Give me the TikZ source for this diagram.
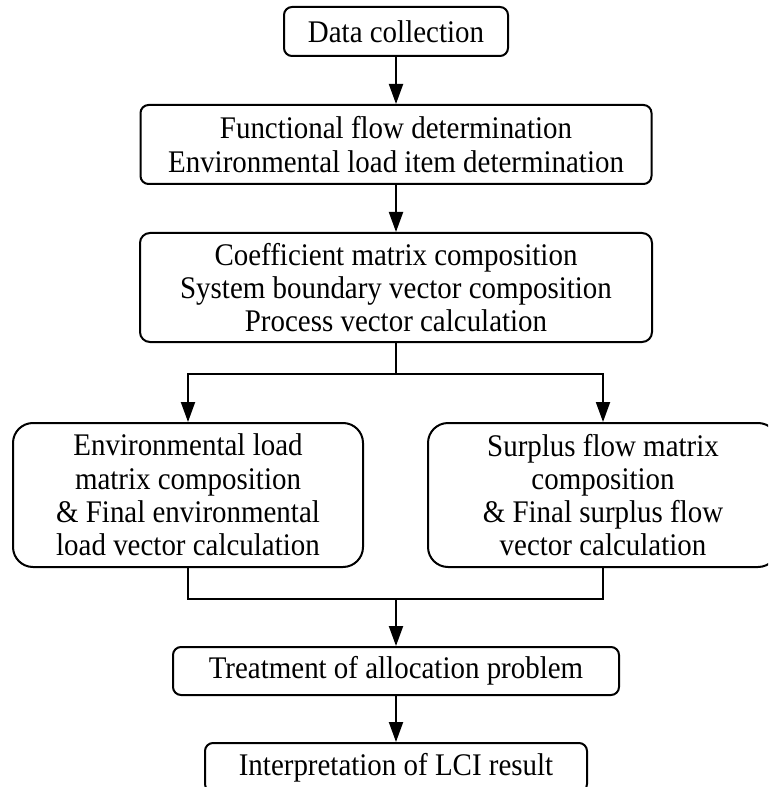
\documentclass[tikz,border=0pt]{standalone}
\usepackage{fontspec}
\setmainfont{Liberation Serif}[FakeStretch=0.92]
\usetikzlibrary{arrows.meta}

\tikzset{
  flowbox/.style={draw, line width=1.5pt, align=center, inner sep=0pt,
    font=\fontsize{23.6}{24.9}\selectfont},
  smallround/.style={flowbox, rounded corners=6pt},
  biground/.style={flowbox, rounded corners=15pt},
  link/.style={line width=1.5pt},
  flowarrow/.style={link, -{Triangle[length=15pt, width=10.5pt]}}
}

\begin{document}
\begin{tikzpicture}[x=0.75pt, y=-0.75pt]
  \useasboundingbox (0,0) rectangle (768,787);
  \clip (0,0) rectangle (768,787);

  % main chain of steps
  \node[smallround, minimum width=168pt, minimum height=36.75pt] (dc) at (396,31.5) {Data collection};
  \node[smallround, minimum width=383.25pt, minimum height=59.25pt] (func) at (396,144.5)
    {Functional flow determination\\Environmental load item determination};
  \node[smallround, rounded corners=7.5pt, minimum width=384pt, minimum height=81.75pt] (coef) at (396,287.5)
    {Coefficient matrix composition\\System boundary vector composition\\Process vector calculation};

  % the two parallel branches
  \node[biground, minimum width=262.5pt, minimum height=108pt] (env) at (188,495)
    {Environmental load\\matrix composition\\\& Final environmental\\load vector calculation};
  \node[biground, minimum width=262.5pt, minimum height=108pt] (sur) at (603,495)
    {Surplus flow matrix\\composition\\\& Final surplus flow\\vector calculation};

  \node[smallround, minimum width=334.5pt, minimum height=36pt] (alloc) at (396,671)
    {Treatment of allocation problem};
  \node[smallround, minimum width=286.5pt, minimum height=36.75pt] (lci) at (396,767.5)
    {Interpretation of LCI result};

  % junction points of the split and the merge
  \coordinate (split) at (396,374);
  \coordinate (merge) at (396,599);

  \draw[flowarrow] (dc.south) -- (func.north);
  \draw[flowarrow] (func.south) -- (coef.north);

  \draw[link] (coef.south) -- (split);
  \draw[flowarrow] (split) -| (env.north);
  \draw[flowarrow] (split) -| (sur.north);

  \draw[link] (env.south) |- (merge) -| (sur.south);
  \draw[flowarrow] (merge) -- (alloc.north);
  \draw[flowarrow] (alloc.south) -- (lci.north);
\end{tikzpicture}
\end{document}
